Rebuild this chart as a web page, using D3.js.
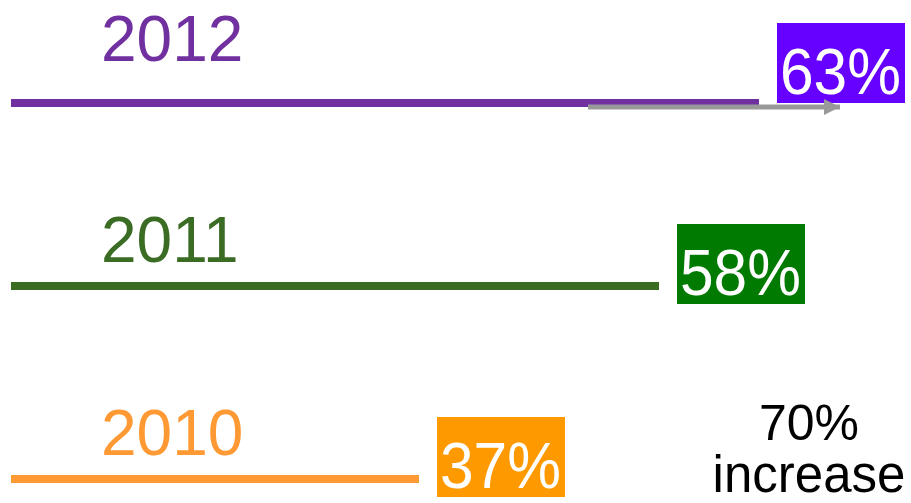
<!DOCTYPE html>
<html>
<head>
<meta charset="utf-8">
<script src="https://cdn.jsdelivr.net/npm/d3@7"></script>
<style>
  html, body { margin: 0; padding: 0; background: #fff; }
  svg { display: block; font-family: "Liberation Sans", Arial, sans-serif; }
</style>
</head>
<body>
<div id="chart"></div>
<script>
// data
const years = ['2012', '2011', '2010'];
const shares = [63, 58, 37];
const lineColors = ['#7030a0', '#3b6c24', '#ff9933'];
const boxColors = ['#6600ff', '#007a00', '#ff9900'];
const noteLines = ['70%', 'increase'];

const width = 911;
const height = 503;

const data = years.map((year, i) => ({
  year: year,
  value: shares[i],
  line: lineColors[i],
  box: boxColors[i]
}));

const svg = d3.select('#chart')
  .append('svg')
    .attr('width', width)
    .attr('height', height);

// x scale (the original is hand drawn, so it bends a bit between values)
const x = d3.scaleLinear()
  .domain([0, 37, 58, 63])
  .range([11, 419, 659, 759]);

// rows are not evenly spaced in the original
const y = d3.scaleOrdinal()
  .domain(years)
  .range([103, 286, 479]);

// baseline of the year labels
const labelY = d3.scaleOrdinal()
  .domain(years)
  .range([61, 262, 455]);

const rows = svg.selectAll('.row')
  .data(data)
  .enter().append('g')
    .attr('class', 'row');

// the bar as a thick line
rows.append('line')
  .attr('x1', x(0))
  .attr('x2', d => x(d.value))
  .attr('y1', d => y(d.year))
  .attr('y2', d => y(d.year))
  .attr('stroke', d => d.line)
  .attr('stroke-width', 8);

// year label above the line
rows.append('text')
  .attr('x', 101)
  .attr('y', d => labelY(d.year))
  .attr('fill', d => d.line)
  .style('font-size', '64px')
  .text(d => d.year);

// value box
const boxW = 128, boxH = 80;
const boxTop = d => labelY(d.year) + 42 - boxH;

rows.append('rect')
  .attr('x', d => x(d.value) + 18)
  .attr('y', boxTop)
  .attr('width', boxW)
  .attr('height', boxH)
  .attr('fill', d => d.box);

rows.append('text')
  .attr('x', d => x(d.value) + 18 + 3)
  .attr('y', d => boxTop(d) + boxH - 9)
  .attr('fill', '#fff')
  .attr('textLength', 121)
  .attr('lengthAdjust', 'spacingAndGlyphs')
  .style('font-size', '64px')
  .text(d => d.value + '%');

// gray arrow showing the growth
svg.append('defs').append('marker')
  .attr('id', 'arrowhead')
  .attr('viewBox', '0 0 10 10')
  .attr('refX', 10)
  .attr('refY', 5)
  .attr('markerUnits', 'userSpaceOnUse')
  .attr('markerWidth', 17)
  .attr('markerHeight', 16)
  .attr('orient', 'auto')
  .append('path')
    .attr('d', 'M0,0L10,5L0,10Z')
    .attr('fill', '#999');

svg.append('line')
  .attr('x1', 588)
  .attr('x2', 840)
  .attr('y1', y('2012') + 4)
  .attr('y2', y('2012') + 4)
  .attr('stroke', '#999')
  .attr('stroke-width', 5)
  .attr('marker-end', 'url(#arrowhead)');

// note
svg.append('text')
  .attr('x', 807)
  .attr('y', 440)
  .attr('text-anchor', 'middle')
  .attr('fill', '#000')
  .style('font-size', '50px')
  .selectAll('tspan')
  .data(noteLines)
  .enter().append('tspan')
    .attr('x', 809)
    .attr('dy', (d, i) => i === 0 ? 0 : 52)
    .style('font-size', (d, i) => i === 0 ? '50px' : '51px')
    .text(d => d);
</script>
</body>
</html>
